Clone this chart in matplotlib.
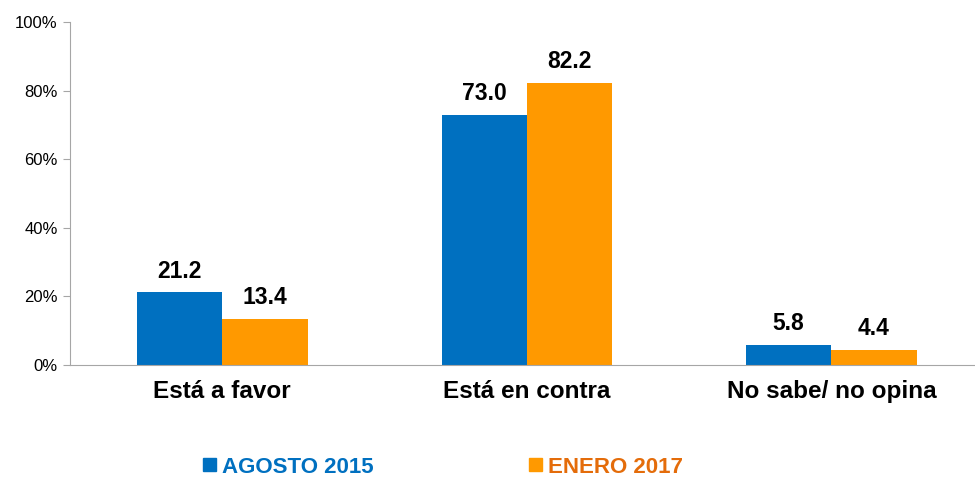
import matplotlib.pyplot as plt
import numpy as np
from matplotlib.patches import Patch

plt.rcParams['font.family'] = ['Liberation Sans', 'DejaVu Sans']

categorias = ["Está a favor", "Está en contra", "No sabe/ no opina"]
agosto_2015 = [21.2, 73.0, 5.8]
enero_2017 = [13.4, 82.2, 4.4]
series = ["AGOSTO 2015", "ENERO 2017"]

azul = "#0070C0"
naranja = "#FF9900"
naranja_texto = "#E46C0A"

fig = plt.figure(figsize=(9.75, 4.8), dpi=100)
ax = fig.add_axes([0.0718, 0.2396, 0.937, 0.7146])

x = np.arange(len(categorias))
w = 0.28
b1 = ax.bar(x - w / 2, agosto_2015, w, color=azul)
b2 = ax.bar(x + w / 2, enero_2017, w, color=naranja)

for barras in (b1, b2):
    for b in barras:
        ax.annotate(f"{b.get_height():.1f}", (b.get_x() + b.get_width() / 2, b.get_height()),
                    xytext=(0, 7), textcoords="offset points", ha="center", va="bottom",
                    fontsize=16.5, fontweight="bold", color="black")

ax.set_xlim(-0.5, 2.5)
ax.set_ylim(0, 100)
ax.set_yticks(range(0, 101, 20))
ax.set_yticklabels([f"{v}%" for v in range(0, 101, 20)], fontsize=12)
ax.set_xticks(x)
ax.set_xticklabels(categorias, fontsize=17.5, fontweight="bold")
ax.tick_params(axis="x", length=0, pad=11)
ax.tick_params(axis="y", length=5, color="#A6A6A6", pad=4)
for s in ("top", "right"):
    ax.spines[s].set_visible(False)
for s in ("left", "bottom"):
    ax.spines[s].set_color("#A6A6A6")

handles = [Patch(color=azul), Patch(color=naranja)]
leg = fig.legend(handles, series, loc="center left", bbox_to_anchor=(0.188, 0.027),
                 ncol=2, frameon=False, handlelength=0.55, handleheight=0.55,
                 handletextpad=0.3, columnspacing=7.0,
                 prop={"size": 16, "weight": "bold"})
for t, c in zip(leg.get_texts(), [azul, naranja_texto]):
    t.set_color(c)

fig.savefig("out.png", dpi=100)
